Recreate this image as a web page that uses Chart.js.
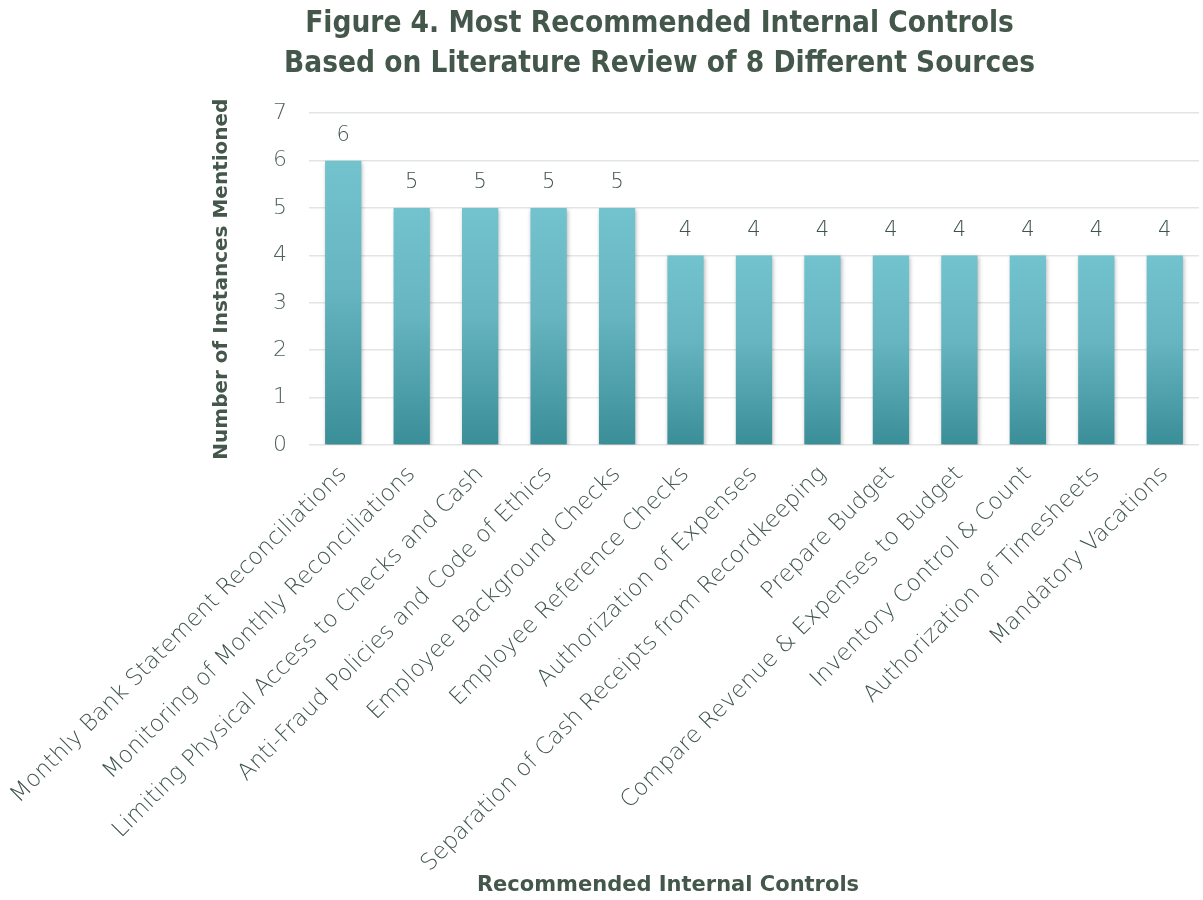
<!DOCTYPE html>
<html><head><meta charset="utf-8">
<script src="https://cdn.jsdelivr.net/npm/chart.js@4/dist/chart.umd.min.js"></script>
<style>html,body{margin:0;padding:0;background:#fff}</style>
</head><body>
<canvas id="c" width="1203" height="900"></canvas>
<script>
const categories = [
  "Monthly Bank Statement Reconciliations",
  "Monitoring of Monthly Reconciliations",
  "Limiting Physical Access to Checks and Cash",
  "Anti-Fraud Policies and Code of Ethics",
  "Employee Background Checks",
  "Employee Reference Checks",
  "Authorization of Expenses",
  "Separation of Cash Receipts from Recordkeeping",
  "Prepare Budget",
  "Compare Revenue & Expenses to Budget",
  "Inventory Control & Count",
  "Authorization of Timesheets",
  "Mandatory Vacations"
];
const instances = [6, 5, 5, 5, 5, 4, 4, 4, 4, 4, 4, 4, 4];
const yTickValues = [0, 1, 2, 3, 4, 5, 6, 7];
const titleLines = ["Figure 4. Most Recommended Internal Controls", "Based on Literature Review of 8 Different Sources"];
const yAxisTitle = "Number of Instances Mentioned";
const xAxisTitle = "Recommended Internal Controls";

const FONT = "'DejaVu Sans', sans-serif";
const TITLE_FONT = "'DejaVu Sans Condensed', 'DejaVu Sans', sans-serif";
const DARK = '#44574b';
const MID = '#3e5449';

const canvas = document.getElementById('c');

const barShadow = {
  id: 'barShadow',
  beforeDatasetDraw(chart) {
    const ctx = chart.ctx;
    ctx.save();
    ctx.shadowColor = 'rgba(0,0,0,0.28)';
    ctx.shadowBlur = 4;
    ctx.shadowOffsetX = 1;
    ctx.shadowOffsetY = 2;
  },
  afterDatasetDraw(chart) { chart.ctx.restore(); }
};

const valueLabels = {
  id: 'valueLabels',
  afterDatasetsDraw(chart) {
    const ctx = chart.ctx;
    const meta = chart.getDatasetMeta(0);
    const data = chart.data.datasets[0].data;
    ctx.save();
    ctx.font = "200 21px " + FONT;
    ctx.fillStyle = MID;
    ctx.textAlign = 'center';
    ctx.textBaseline = 'middle';
    meta.data.forEach((el, i) => {
      ctx.fillText(String(data[i]), el.x, el.y - 25);
    });
    ctx.restore();
  }
};

const xTitlePlugin = {
  id: 'xTitlePlugin',
  afterDraw(chart) {
    const ctx = chart.ctx;
    ctx.save();
    ctx.font = "bold 21px " + FONT;
    ctx.fillStyle = DARK;
    ctx.textAlign = 'center';
    ctx.textBaseline = 'middle';
    ctx.fillText(xAxisTitle, 668, 886);
    ctx.restore();
  }
};

new Chart(canvas, {
  type: 'bar',
  data: {
    labels: categories,
    datasets: [{
      data: instances,
      backgroundColor(context) {
        const chart = context.chart;
        const y = chart.scales.y;
        if (!y || context.raw === undefined) return '#5aaab5';
        const top = y.getPixelForValue(context.raw);
        const bottom = y.getPixelForValue(0);
        if (!isFinite(top) || !isFinite(bottom) || top === bottom) return '#5aaab5';
        const g = chart.ctx.createLinearGradient(0, top, 0, bottom);
        g.addColorStop(0, '#73c3ce');
        g.addColorStop(0.45, '#66b5c0');
        g.addColorStop(1, '#3a8e98');
        return g;
      },
      borderWidth: 0,
      categoryPercentage: 1.0,
      barPercentage: 0.53
    }]
  },
  options: {
    responsive: false,
    animation: false,
    layout: { padding: { left: 120, right: 4, top: 0, bottom: 0 } },
    plugins: {
      legend: { display: false },
      tooltip: { enabled: false },
      title: {
        display: true,
        text: titleLines,
        color: DARK,
        font: { family: TITLE_FONT, size: 29.5, weight: 'bold', lineHeight: 1.36 },
        padding: { top: 4, bottom: 29 }
      }
    },
    scales: {
      y: {
        min: 0, max: 7,
        afterBuildTicks(scale) { scale.ticks = yTickValues.map(v => ({ value: v })); },
        afterFit(scale) { scale.width = 189; },
        border: { display: false },
        grid: { color: '#e1e5e3', lineWidth: 1.5, drawTicks: false },
        ticks: { color: '#4f6259', font: { family: FONT, size: 22, weight: 200 }, padding: 22 },
        title: {
          display: true,
          text: yAxisTitle,
          color: DARK,
          font: { family: FONT, size: 20, weight: 'bold' },
          padding: { top: 90, bottom: 0 }
        }
      },
      x: {
        afterFit(scale) { scale.height = 455; scale.paddingLeft = 0; scale.paddingRight = 0; },
        border: { display: false },
        grid: { display: false },
        ticks: {
          color: MID,
          font: { family: FONT, size: 23, weight: 200 },
          maxRotation: 45, minRotation: 45,
          autoSkip: false,
          padding: 8
        }
      }
    }
  },
  plugins: [barShadow, valueLabels, xTitlePlugin]
});
</script>
</body></html>
